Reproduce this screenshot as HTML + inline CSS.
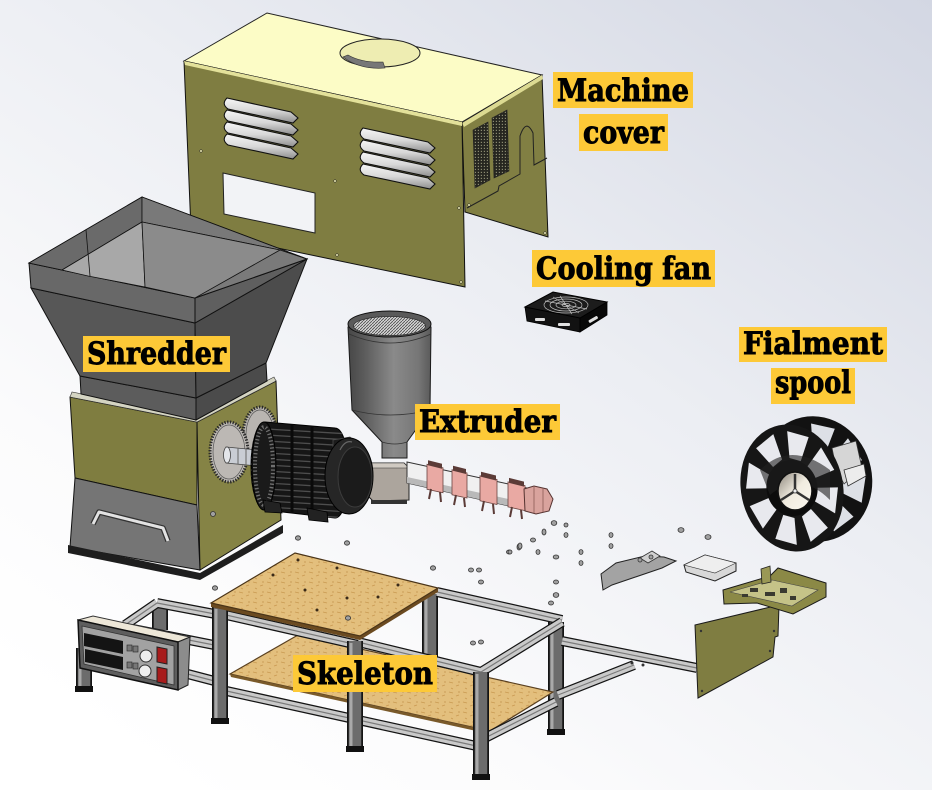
<!DOCTYPE html>
<html><head><meta charset="utf-8">
<style>
html,body{margin:0;padding:0;background:#fff;}
body{width:932px;height:790px;overflow:hidden;}
svg{display:block;}
.lbl{font-family:"DejaVu Serif","Liberation Serif",serif;font-weight:bold;font-size:31px;fill:#000;stroke:#000;stroke-width:0.9;}
.box{fill:#fdc937;}
.rk{stroke:#141414;stroke-width:10;stroke-linecap:butt;fill:none;}
.rm{stroke:#c9c9c9;stroke-width:7.5;fill:none;}
.rc{stroke:#7a7a7a;stroke-width:1.2;fill:none;}
.lk{stroke:#141414;stroke-width:16;fill:none;}
.lm{stroke:#6c6c6c;stroke-width:12.5;fill:none;}
.lh{stroke:#a9a9a9;stroke-width:3;fill:none;}
.bolt{fill:#a0a0a0;stroke:#333;stroke-width:0.8;}
.ln{stroke:#111;stroke-width:1;}
</style></head><body>
<svg width="932" height="790" viewBox="0 0 932 790" xmlns="http://www.w3.org/2000/svg">
<defs>
<linearGradient id="bg" x1="1" y1="0" x2="0.2" y2="1">
 <stop offset="0" stop-color="#d3d7e3"/>
 <stop offset="0.45" stop-color="#eceef3"/>
 <stop offset="0.8" stop-color="#fbfbfc"/>
 <stop offset="1" stop-color="#ffffff"/>
</linearGradient>
<linearGradient id="vent" x1="0" y1="0" x2="0" y2="1">
 <stop offset="0" stop-color="#f6f6f6"/>
 <stop offset="0.5" stop-color="#d8d8d8"/>
 <stop offset="1" stop-color="#8e8e8e"/>
</linearGradient>
<linearGradient id="cyl" gradientUnits="userSpaceOnUse" x1="348" y1="0" x2="431" y2="0">
 <stop offset="0" stop-color="#474747"/>
 <stop offset="0.2" stop-color="#5c5c5c"/>
 <stop offset="0.55" stop-color="#8a8a8a"/>
 <stop offset="0.85" stop-color="#767676"/>
 <stop offset="1" stop-color="#5a5a5a"/>
</linearGradient>
<linearGradient id="hub" x1="0" y1="0" x2="1" y2="1">
 <stop offset="0" stop-color="#8a847a"/>
 <stop offset="0.5" stop-color="#f1ece0"/>
 <stop offset="1" stop-color="#fbf8f0"/>
</linearGradient>
<pattern id="mesh" width="3" height="3" patternUnits="userSpaceOnUse">
 <rect width="3" height="3" fill="#d4d4d4"/>
 <path d="M0,3 L3,0" stroke="#4a4a4a" stroke-width="0.8"/>
</pattern>
<pattern id="grill" width="3" height="3" patternUnits="userSpaceOnUse">
 <rect width="3" height="3" fill="#262620"/>
 <rect x="0.8" y="0.8" width="1.2" height="1.2" fill="#8a8a70"/>
</pattern>
<pattern id="wood" width="14" height="10" patternUnits="userSpaceOnUse">
 <rect width="14" height="10" fill="#e3bf7d"/>
 <path d="M1,2 l4,1 M8,6 l3,-1 M3,8 l2,1" stroke="#c99a52" stroke-width="0.8"/>
 <circle cx="11" cy="2" r="0.6" fill="#b5853e"/>
</pattern>
<clipPath id="motorclip"><path d="M265,422 L335,428 A14,45 0 0 1 335,518 L265,510 A14,44 0 0 1 265,422 Z"/></clipPath>
</defs>

<rect width="932" height="790" fill="url(#bg)"/>

<!-- ============ SKELETON (back parts) ============ -->
<g>
 <path class="lk" d="M84,648 L84,690 M430,594 L430,700 M556,622 L556,733 M160,606 L160,630"/>
 <path class="lm" d="M84,648 L84,690 M430,594 L430,700 M556,622 L556,733 M160,606 L160,630"/>
 <path class="lh" d="M80,650 L80,688 M426,596 L426,698 M552,624 L552,731"/>
 <path class="rk" d="M157,603 L215,614 M125,625 L157,603 M128,628 L214,645 M180,672 L226,684 M437,592 L562,620 M562,641 L697,668 M558,695 L634,665"/>
 <path class="rm" d="M157,603 L215,614 M125,625 L157,603 M128,628 L214,645 M180,672 L226,684 M437,592 L562,620 M562,641 L697,668 M558,695 L634,665"/>
 <path class="rc" d="M157,603 L215,614 M125,625 L157,603 M128,628 L214,645 M180,672 L226,684 M437,592 L562,620 M562,641 L697,668 M558,695 L634,665"/>
 <circle cx="632" cy="663" r="1.5" fill="#333"/><circle cx="643" cy="665" r="1.5" fill="#333"/>
</g>
<!-- lower shelf -->
<polygon points="230,674 298,635 553,692 490,731" fill="url(#wood)" stroke="#5a4020" stroke-width="1.2"/>
<polygon points="230,674 490,731 490,734 231,677" fill="#7a5a2a"/>
<!-- front frame -->
<g>
 <path class="rk" d="M222,690 L481,747 M481,740 L556,702 M213,612 L358,645 M358,642 L481,672 M481,672 L562,622"/>
 <path class="rm" d="M222,690 L481,747 M481,740 L556,702 M213,612 L358,645 M358,642 L481,672 M481,672 L562,622"/>
 <path class="rc" d="M222,690 L481,747 M481,740 L556,702 M213,612 L358,645 M358,642 L481,672 M481,672 L562,622"/>
 <path class="lk" d="M220,607 L220,722 M355,641 L355,750 M481,672 L481,778"/>
 <path class="lm" d="M220,607 L220,722 M355,641 L355,750 M481,672 L481,778"/>
 <path class="lh" d="M216,609 L216,720 M351,643 L351,748 M477,674 L477,776"/>
 <rect x="211" y="718" width="18" height="6" fill="#111"/>
 <rect x="346" y="746" width="18" height="6" fill="#111"/>
 <rect x="472" y="774" width="18" height="6" fill="#111"/>
 <rect x="547" y="729" width="18" height="6" fill="#111"/>
 <rect x="75" y="686" width="18" height="6" fill="#111"/>
</g>
<!-- table top -->
<polygon points="211,607 360,640 438,592 438,588 360,636 211,603" fill="#6b4a20"/>
<polygon points="211,603 295,553 438,588 360,636" fill="url(#wood)" stroke="#4a3418" stroke-width="1.2"/>
<g fill="#3a2a18">
 <circle cx="298" cy="560" r="1.5"/><circle cx="337" cy="568" r="1.5"/><circle cx="273" cy="575" r="1.5"/>
 <circle cx="305" cy="590" r="1.5"/><circle cx="378" cy="597" r="1.5"/><circle cx="347" cy="598" r="1.5"/>
 <circle cx="398" cy="585" r="1.5"/><circle cx="317" cy="610" r="1.5"/>
</g>
<ellipse class="bolt" cx="348" cy="618" rx="2.6" ry="2.2"/>

<!-- control box -->
<polygon points="78,620 93,616 190,637 178,642" fill="#ede7d8" stroke="#333" stroke-width="1"/>
<polygon points="178,642 190,637 188,685 178,690" fill="#8c8c8c" stroke="#222" stroke-width="1"/>
<polygon points="78,620 178,642 178,690 80,668" fill="#5e5e5e" stroke="#111" stroke-width="1.5"/>
<polygon points="82,626 174,646 174,685 84,664" fill="#a2a2a2" stroke="#333" stroke-width="0.8"/>
<polygon points="84,633 123,641 123,654 84,646" fill="#141414"/>
<polygon points="85,649 123,657 123,670 85,662" fill="#141414"/>
<g fill="#777" stroke="#222" stroke-width="0.6">
 <rect x="127" y="645" width="5" height="6"/><rect x="133" y="646" width="5" height="6"/>
 <rect x="127" y="662" width="5" height="6"/><rect x="133" y="663" width="5" height="6"/>
</g>
<circle cx="146" cy="656" r="6" fill="#eeeeee" stroke="#333" stroke-width="1"/>
<circle cx="145" cy="671" r="6" fill="#eeeeee" stroke="#333" stroke-width="1"/>
<polygon points="157,647 167,649 167,664 157,662" fill="#a81c1c" stroke="#222" stroke-width="1"/>
<polygon points="157,667 167,669 167,684 157,682" fill="#a81c1c" stroke="#222" stroke-width="1"/>

<!-- olive plate and tray -->
<polygon points="695,625 779,605 778,636 775,637 773,657 698,698" fill="#7f7d41" stroke="#1a1a1a" stroke-width="1"/>
<g fill="#333"><circle cx="701" cy="631" r="1.2"/><circle cx="702" cy="691" r="1.2"/><circle cx="770" cy="651" r="1.2"/><circle cx="774" cy="631" r="1.2"/></g>
<polygon points="723,590 770,576 778,568 826,583 826,597 793,614 757,603 724,604" fill="#8b8946" stroke="#1a1a1a" stroke-width="1"/>
<polygon points="730,592 772,580 818,590 792,606" fill="#c5c388" stroke="#444" stroke-width="0.6"/>
<g fill="#3a3a30"><rect x="750" y="588" width="8" height="4"/><rect x="765" y="592" width="10" height="4"/><rect x="780" y="588" width="7" height="5"/><rect x="790" y="596" width="6" height="4"/><rect x="742" y="594" width="6" height="3"/></g>
<polygon points="761,569 770,566 771,582 762,584" fill="#9a9855" stroke="#222" stroke-width="0.8"/>

<!-- brackets -->
<polygon points="601,574 616,563 645,556 664,557 676,561 662,568 612,585 603,590" fill="#a3a3a3" stroke="#222" stroke-width="1"/>
<polygon points="640,558 652,551 660,556 648,563" fill="#d0d0d0" stroke="#333" stroke-width="0.8"/>
<polygon points="684,565 705,555 736,563 736,571 715,581 686,572" fill="#d8d8d8" stroke="#222" stroke-width="1"/>
<polygon points="684,565 705,555 736,563 715,573" fill="#eeeeee" stroke="#333" stroke-width="0.6"/>

<!-- bolts -->
<g>
 <ellipse class="bolt" cx="554" cy="523" rx="2.8" ry="2.4"/><ellipse class="bolt" cx="566" cy="525" rx="2" ry="2"/>
 <ellipse class="bolt" cx="566" cy="535" rx="2" ry="2.4"/><ellipse class="bolt" cx="544" cy="532" rx="2" ry="3"/>
 <ellipse class="bolt" cx="533" cy="540" rx="2.5" ry="2"/><ellipse class="bolt" cx="519" cy="547" rx="2" ry="3"/>
 <ellipse class="bolt" cx="509" cy="552" rx="2.5" ry="2"/><ellipse class="bolt" cx="538" cy="552" rx="2" ry="2.4"/>
 <ellipse class="bolt" cx="556" cy="557" rx="2.8" ry="2"/><ellipse class="bolt" cx="581" cy="552" rx="2" ry="2.4"/>
 <ellipse class="bolt" cx="581" cy="563" rx="2" ry="2.4"/><ellipse class="bolt" cx="611" cy="535" rx="2" ry="2.4"/>
 <ellipse class="bolt" cx="611" cy="546" rx="2" ry="2.4"/><ellipse class="bolt" cx="681" cy="530" rx="3" ry="2.4"/>
 <ellipse class="bolt" cx="708" cy="537" rx="3" ry="2.4"/><ellipse class="bolt" cx="471" cy="570" rx="2.5" ry="2"/>
 <ellipse class="bolt" cx="479" cy="570" rx="2.5" ry="2"/><ellipse class="bolt" cx="481" cy="582" rx="2.5" ry="2"/>
 <ellipse class="bolt" cx="556" cy="582" rx="2.5" ry="2"/><ellipse class="bolt" cx="556" cy="595" rx="2.8" ry="2.4"/>
 <ellipse class="bolt" cx="551" cy="603" rx="2.5" ry="2"/><ellipse class="bolt" cx="473" cy="643" rx="2.5" ry="2"/>
 <ellipse class="bolt" cx="481" cy="642" rx="2.5" ry="2"/><ellipse class="bolt" cx="298" cy="538" rx="2.6" ry="2.2"/>
 <ellipse class="bolt" cx="347" cy="543" rx="2.6" ry="2.2"/><ellipse class="bolt" cx="433" cy="568" rx="2.6" ry="2.2"/>
 <ellipse class="bolt" cx="215" cy="588" rx="2.6" ry="2.2"/><ellipse class="bolt" cx="510" cy="552" rx="2" ry="2"/>
 <ellipse class="bolt" cx="520" cy="546" rx="2" ry="3"/><ellipse class="bolt" cx="640" cy="560" rx="2" ry="2"/>
 <ellipse class="bolt" cx="651" cy="557" rx="2" ry="2"/>
</g>

<!-- ============ SPOOL ============ -->
<g transform="translate(815,479) rotate(-12) scale(57,63)">
 <ellipse rx="1" ry="1" fill="#121212"/>
 <g fill="#dde0e6">
  <polygon transform="rotate(22.5)" points="0.44,-0.11 0.86,-0.21 0.86,0.21 0.44,0.11"/>
  <polygon transform="rotate(67.5)" points="0.44,-0.11 0.86,-0.21 0.86,0.21 0.44,0.11"/>
  <polygon transform="rotate(112.5)" points="0.44,-0.11 0.86,-0.21 0.86,0.21 0.44,0.11"/>
  <polygon transform="rotate(-22.5)" points="0.44,-0.11 0.86,-0.21 0.86,0.21 0.44,0.11"/>
  <polygon transform="rotate(-67.5)" points="0.44,-0.11 0.86,-0.21 0.86,0.21 0.44,0.11"/>
 </g>
</g>
<polygon points="832,448 856,441 862,468 844,484 836,468" fill="#d6d6d6" stroke="#333" stroke-width="0.8"/>
<polygon points="844,470 864,464 866,476 848,486" fill="#ececec" stroke="#333" stroke-width="0.8"/>
<ellipse cx="806" cy="484" rx="32" ry="42" fill="#0e0e0e"/>
<g transform="translate(792,488) rotate(-12) scale(51,64)">
 <ellipse rx="1" ry="1" fill="#161616"/>
 <g fill="#e8e9ee">
  <polygon transform="rotate(22.5)" points="0.46,-0.11 0.87,-0.21 0.87,0.21 0.46,0.11"/>
  <polygon transform="rotate(67.5)" points="0.46,-0.11 0.87,-0.21 0.87,0.21 0.46,0.11"/>
  <polygon transform="rotate(112.5)" points="0.46,-0.11 0.87,-0.21 0.87,0.21 0.46,0.11"/>
  <polygon transform="rotate(157.5)" points="0.46,-0.11 0.87,-0.21 0.87,0.21 0.46,0.11"/>
  <polygon transform="rotate(202.5)" points="0.46,-0.11 0.87,-0.21 0.87,0.21 0.46,0.11"/>
  <polygon transform="rotate(247.5)" points="0.46,-0.11 0.87,-0.21 0.87,0.21 0.46,0.11"/>
  <polygon transform="rotate(292.5)" points="0.46,-0.11 0.87,-0.21 0.87,0.21 0.46,0.11"/>
  <polygon transform="rotate(337.5)" points="0.46,-0.11 0.87,-0.21 0.87,0.21 0.46,0.11"/>
 </g>
 <ellipse rx="0.5" ry="0.44" fill="#0c0c0c"/>
</g>
<path d="M760,470 Q790,440 830,470 L830,500 Q800,470 770,495 Z" fill="#222" opacity="0.6"/>
<ellipse cx="795" cy="491" rx="17" ry="19" fill="url(#hub)" stroke="#111" stroke-width="1.5"/>
<path d="M795,491 L795,474 M795,491 L781,500 M795,491 L809,500" stroke="#333" stroke-width="2.5"/>
<circle cx="795" cy="491" r="2" fill="#eee" stroke="#333" stroke-width="0.8"/>

<!-- ============ COOLING FAN ============ -->
<polygon points="525,307 580,318 580,332 527,321" fill="#121212" stroke="#000" stroke-width="0.8"/>
<polygon points="580,318 607,302 607,315 580,332" fill="#080808" stroke="#000" stroke-width="0.8"/>
<polygon points="525,307 553,292 607,302 580,318" fill="#1c1c1c" stroke="#000" stroke-width="1"/>
<g fill="none" stroke="#bdbdbd" stroke-width="0.7">
 <ellipse cx="566" cy="305" rx="22" ry="8"/><ellipse cx="566" cy="305" rx="16" ry="6"/>
 <ellipse cx="566" cy="305" rx="10" ry="3.8"/><ellipse cx="566" cy="305" rx="4" ry="1.6"/>
 <path d="M545,301 L587,309 M553,297 L579,313 M560,296 L572,314"/>
</g>
<g fill="#e0e0e0"><rect x="535" y="318" width="10" height="3" rx="1"/><rect x="558" y="323" width="12" height="3" rx="1"/><rect x="588" y="318" width="10" height="3" rx="1" transform="rotate(-30 593 319)"/></g>

<!-- ============ MACHINE COVER ============ -->
<polygon points="184,61 267,13 542,75 462,122" fill="#fcfcc6" stroke="#222" stroke-width="1"/>
<ellipse cx="380" cy="53" rx="40" ry="14" fill="#eeedb2" stroke="#222" stroke-width="1"/>
<path d="M343,57 Q360,70 385,68 L383,62 Q362,63 348,55 Z" fill="#777" stroke="#333" stroke-width="0.6"/>
<polygon points="462,123 542,75 548,237 465,212" fill="#817f43" stroke="#111" stroke-width="1"/>
<polygon points="462,123 542,75 543,79 464,127" fill="#dcda92"/>
<polygon points="473,130 488,122 490,180 475,188" fill="url(#grill)" stroke="#222" stroke-width="0.6"/>
<polygon points="492,118 507,110 509,171 494,178" fill="url(#grill)" stroke="#222" stroke-width="0.6"/>
<path d="M467,208 L498,191 L499,186 L520,174 L520,136 Q526,118 533,133 L534,165 L547,158" fill="none" stroke="#222" stroke-width="1"/>
<polygon points="184,61 462,122 465,287 191,230" fill="#7f7d41" stroke="#111" stroke-width="1"/>
<polygon points="184,61 462,122 462,126 185,65" fill="#e3e19a"/>
<polygon points="223,173 315,193 315,233 224,214" fill="#f2f3f6" stroke="#222" stroke-width="1"/>
<g fill="url(#vent)" stroke="#111" stroke-width="1.1">
 <path d="M227,98 L291,112 L298,118 L293,123 L228,109 Q221,104 227,98 Z"/>
 <path d="M227,110 L291,124 L298,130 L293,135 L228,121 Q221,116 227,110 Z"/>
 <path d="M227,122 L291,136 L298,142 L293,147 L228,133 Q221,128 227,122 Z"/>
 <path d="M227,134 L291,148 L298,154 L293,159 L228,145 Q221,140 227,134 Z"/>
 <path d="M363,128 L428,142 L435,148 L430,153 L364,139 Q357,134 363,128 Z"/>
 <path d="M363,140 L428,154 L435,160 L430,165 L364,151 Q357,146 363,140 Z"/>
 <path d="M363,152 L428,166 L435,172 L430,177 L364,163 Q357,158 363,152 Z"/>
 <path d="M363,164 L428,178 L435,184 L430,189 L364,175 Q357,170 363,164 Z"/>
</g>
<g fill="#e8e6b0" stroke="#222" stroke-width="0.5">
 <circle cx="201" cy="151" r="1.3"/><circle cx="335" cy="181" r="1.3"/><circle cx="204" cy="225" r="1.3"/>
 <circle cx="337" cy="255" r="1.3"/><circle cx="459" cy="208" r="1.3"/><circle cx="461" cy="282" r="1.3"/>
 <circle cx="545" cy="233" r="1.3"/><circle cx="469" cy="205" r="1.3"/>
</g>

<!-- ============ SHREDDER ============ -->
<polygon points="197,422 276,381 281,520 200,570" fill="#858345" stroke="#111" stroke-width="1"/>
<polygon points="70,397 197,422 197,505 75,478" fill="#7f7d40" stroke="#111" stroke-width="1"/>
<polygon points="75,478 197,505 200,570 70,547" fill="#757575" stroke="#111" stroke-width="1"/>
<polygon points="68,545 200,573 283,525 283,533 200,580 68,553" fill="#1e1e1e"/>
<polygon points="70,397 197,422 276,381 274,377 197,417 72,392" fill="#d4d4c2" stroke="#333" stroke-width="0.6"/>
<path d="M93,524 L99,512 L163,528 L168,541" fill="none" stroke="#333" stroke-width="5.5" stroke-linejoin="round"/>
<path d="M93,524 L99,512 L163,528 L168,541" fill="none" stroke="#e2e2e2" stroke-width="3" stroke-linejoin="round"/>
<ellipse class="bolt" cx="213" cy="514" rx="2.5" ry="2.5"/>
<polygon points="80,376 196,398 196,420 81,394" fill="#5c5c5c" stroke="#111" stroke-width="1"/>
<polygon points="196,398 266,363 267,381 196,420" fill="#4b4b4b" stroke="#111" stroke-width="1"/>
<polygon points="31,288 195,323 196,398 80,376" fill="#575757" stroke="#111" stroke-width="1"/>
<polygon points="195,323 307,259 266,363 196,398" fill="#4c4c4c" stroke="#111" stroke-width="1"/>
<polygon points="29,263 195,298 195,323 31,288" fill="#686868" stroke="#111" stroke-width="1"/>
<polygon points="195,298 307,259 195,323" fill="#5f5f5f" stroke="#111" stroke-width="1"/>
<polygon points="29,263 142,197 307,259 195,298" fill="#7a7a7a" stroke="#111" stroke-width="1"/>
<polygon points="29,263 142,197 142,222 62,270" fill="#6a6a6a" stroke="#111" stroke-width="0.8"/>
<polygon points="142,197 307,259 280,250 142,222" fill="#797979" stroke="#111" stroke-width="0.8"/>
<polygon points="62,270 142,222 145,287 88,276" fill="#a8a8a8" stroke="#111" stroke-width="0.8"/>
<polygon points="142,222 280,250 195,298 145,287" fill="#8b8b8b" stroke="#111" stroke-width="0.8"/>
<path d="M86,230 L90,276" stroke="#111" stroke-width="0.8"/>

<!-- gears & shaft -->
<ellipse cx="260" cy="435" rx="17" ry="28" fill="#b9b5b1" stroke="#2a2a2a" stroke-width="3" stroke-dasharray="1.4 1.4"/>
<ellipse cx="260" cy="435" rx="14" ry="25" fill="none" stroke="#555" stroke-width="0.7"/>
<ellipse cx="229" cy="452" rx="19" ry="30" fill="#bcb8b4" stroke="#2a2a2a" stroke-width="3" stroke-dasharray="1.4 1.4"/>
<ellipse cx="229" cy="452" rx="16" ry="27" fill="none" stroke="#555" stroke-width="0.7"/>
<polygon points="226,447 268,451 268,467 226,463" fill="#c9cdd4" stroke="#444" stroke-width="0.8"/>
<ellipse cx="227" cy="455" rx="3.5" ry="8" fill="#e4e6ea" stroke="#444" stroke-width="0.8"/>
<path d="M238,448 L238,464 M246,449 L246,465 M254,450 L254,466" stroke="#666" stroke-width="1"/>

<!-- ============ EXTRUDER ============ -->
<path d="M348,327 L352,410 L382,442 L382,458 L407,458 L407,442 L430,410 L431,327 Z" fill="url(#cyl)" stroke="#1a1a1a" stroke-width="1"/>
<path d="M352,410 Q390,420 430,410" fill="none" stroke="#333" stroke-width="0.8"/>
<path d="M382,442 Q395,446 407,442" fill="none" stroke="#333" stroke-width="0.8"/>
<path d="M349,334 Q390,352 431,334" fill="none" stroke="#333" stroke-width="0.8"/>
<ellipse cx="389.5" cy="324" rx="41.5" ry="13" fill="#5a5a5a" stroke="#111" stroke-width="1"/>
<ellipse cx="389.5" cy="326" rx="36" ry="9.5" fill="url(#mesh)" stroke="#333" stroke-width="0.8"/>
<polygon points="368,463 404,463 409,468 409,500 373,501 368,496" fill="#aca59d" stroke="#222" stroke-width="1"/>
<polygon points="368,463 404,463 409,468 372,468" fill="#d0cac2" stroke="#333" stroke-width="0.6"/>
<rect x="371" y="500" width="36" height="4" fill="#333"/>
<polygon points="407,462 527,488 527,510 407,483" fill="#f0f0f0" stroke="#333" stroke-width="1"/>
<polygon points="407,477 527,503 527,510 407,483" fill="#b9b9b9"/>
<g fill="#e9a9a3" stroke="#6a4440" stroke-width="0.8">
 <polygon points="427,464.3 443,467.8 443,492.8 427,489.3"/>
 <polygon points="452,469.8 467,473 467,498 452,494.8"/>
 <polygon points="480,475.8 497,479.5 497,504.5 480,500.8"/>
 <polygon points="508,481.9 525,485.6 525,510.6 508,506.9"/>
</g>
<g fill="#5b3b37">
 <polygon points="428,460.3 442,463.8 442,468.8 428,465.3"/>
 <polygon points="453,465.8 466,469 466,474 453,470.8"/>
 <polygon points="481,471.8 496,475.5 496,480.5 481,476.8"/>
 <polygon points="509,477.9 524,481.6 524,486.6 509,482.9"/>
</g>
<path d="M431,489 L429,499 M440,492 L441,502 M456,495 L454,505 M464,498 L465,507 M484,501 L482,511 M493,504 L494,514 M512,507 L510,517 M521,510 L522,519" stroke="#5b3b37" stroke-width="2"/>
<polygon points="524,489 534,486 547,489 553,499 549,511 536,514 525,511" fill="#d9a39d" stroke="#553330" stroke-width="1"/>
<path d="M534,487 L534,513 M543,488 L543,512" stroke="#8a5a55" stroke-width="0.8"/>

<!-- motor -->
<path d="M265,422 L335,428 A14,45 0 0 1 335,518 L265,510 A14,44 0 0 1 265,422 Z" fill="#161616" stroke="#000" stroke-width="1"/>
<g clip-path="url(#motorclip)" stroke="#4e4e4e" stroke-width="1.3">
 <path d="M250,428 L350,434 M250,434 L350,440 M250,440 L350,446 M250,446 L350,452 M250,452 L350,458 M250,458 L350,464 M250,464 L350,470 M250,470 L350,476 M250,476 L350,482 M250,482 L350,488 M250,488 L350,494 M250,494 L350,500 M250,500 L350,506 M250,506 L350,512 M250,512 L350,518"/>
 <path d="M292,420 L292,520 M312,420 L312,520" stroke="#0a0a0a" stroke-width="3"/>
</g>
<ellipse cx="264" cy="466" rx="12" ry="44" fill="#1a1a1a" stroke="#000" stroke-width="1"/>
<ellipse cx="264" cy="466" rx="9" ry="39" fill="none" stroke="#707070" stroke-width="4" stroke-dasharray="1.3 2.2"/>
<polygon points="333,440 350,437 358,444 358,458 341,461 333,455" fill="#1c1c1c" stroke="#4a4a4a" stroke-width="0.8"/>
<ellipse cx="349" cy="476" rx="24" ry="38" fill="#262626" stroke="#000" stroke-width="1"/>
<ellipse cx="355" cy="477" rx="17" ry="30" fill="#1b1b1b" stroke="#3c3c3c" stroke-width="1"/>
<path d="M340,450 Q345,440 352,442" fill="none" stroke="#666" stroke-width="1.2"/>
<polygon points="263,500 280,503 282,513 265,512" fill="#222" stroke="#000" stroke-width="0.8"/>
<polygon points="307,508 327,512 328,522 309,520" fill="#222" stroke="#000" stroke-width="0.8"/>

<!-- ============ LABELS ============ -->
<rect class="box" x="553" y="72" width="140" height="36"/>
<text class="lbl" x="557" y="101" textLength="132" lengthAdjust="spacingAndGlyphs">Machine</text>
<rect class="box" x="579" y="114" width="89" height="37"/>
<text class="lbl" x="583" y="143" textLength="81" lengthAdjust="spacingAndGlyphs">cover</text>
<rect class="box" x="532" y="250" width="183" height="37"/>
<text class="lbl" x="536" y="279" textLength="175" lengthAdjust="spacingAndGlyphs">Cooling fan</text>
<rect class="box" x="739" y="327" width="148" height="35"/>
<text class="lbl" x="743" y="354" textLength="140" lengthAdjust="spacingAndGlyphs">Fialment</text>
<rect class="box" x="771" y="368" width="84" height="36"/>
<text class="lbl" x="775" y="393" textLength="76" lengthAdjust="spacingAndGlyphs">spool</text>
<rect class="box" x="83" y="336" width="147" height="36"/>
<text class="lbl" x="87" y="364" textLength="139" lengthAdjust="spacingAndGlyphs">Shredder</text>
<rect class="box" x="415" y="404" width="145" height="36"/>
<text class="lbl" x="419" y="432" textLength="137" lengthAdjust="spacingAndGlyphs">Extruder</text>
<rect class="box" x="293" y="655" width="144" height="37"/>
<text class="lbl" x="297" y="684" textLength="136" lengthAdjust="spacingAndGlyphs">Skeleton</text>
</svg>
</body></html>
